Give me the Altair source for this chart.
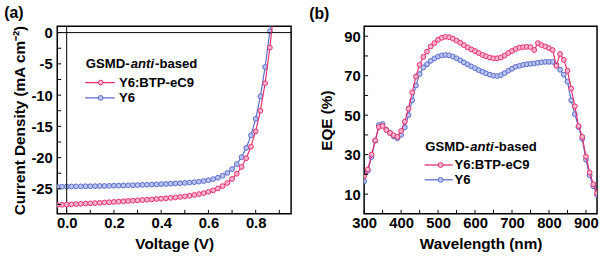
import altair as alt
import pandas as pd

# ---------------- Panel (a): J-V curves ----------------
voltage = [-0.04, -0.02, 0.00, 0.02, 0.04, 0.06, 0.08, 0.10, 0.12, 0.14, 0.16, 0.18,
           0.20, 0.22, 0.24, 0.26, 0.28, 0.30, 0.32, 0.34, 0.36, 0.38, 0.40, 0.42,
           0.44, 0.46, 0.48, 0.50, 0.52, 0.54, 0.56, 0.58, 0.60, 0.62, 0.64, 0.66,
           0.68, 0.70, 0.72, 0.74, 0.76, 0.78, 0.80, 0.82, 0.84, 0.86, 0.88]
j_btp = [-27.58, -27.55, -27.52, -27.48, -27.44, -27.40, -27.36, -27.32, -27.28, -27.24,
         -27.19, -27.14, -27.09, -27.04, -26.99, -26.94, -26.89, -26.84, -26.79, -26.74,
         -26.69, -26.63, -26.57, -26.51, -26.44, -26.37, -26.29, -26.20, -26.10, -25.98,
         -25.84, -25.68, -25.48, -25.24, -24.94, -24.56, -24.06, -23.42, -22.58, -21.50,
         -20.10, -18.25, -15.80, -12.50, -8.10, -2.40, 4.50]
j_y6 = [-24.66, -24.65, -24.63, -24.62, -24.61, -24.60, -24.59, -24.58, -24.57, -24.55,
        -24.54, -24.52, -24.50, -24.48, -24.46, -24.44, -24.42, -24.40, -24.37, -24.34,
        -24.31, -24.28, -24.25, -24.22, -24.18, -24.14, -24.10, -24.05, -24.00, -23.93,
        -23.85, -23.75, -23.62, -23.45, -23.22, -22.90, -22.45, -21.85, -21.05, -19.95,
        -18.45, -16.45, -13.80, -10.20, -5.50, 0.20, 6.50]
a_x_labels = [0.0, 0.2, 0.4, 0.6, 0.8]
a_x_ticks = [0.0, 0.1, 0.2, 0.3, 0.4, 0.5, 0.6, 0.7, 0.8, 0.9]
a_y_labels = [0, -5, -10, -15, -20, -25]
a_y_ticks = [0, -2.5, -5, -7.5, -10, -12.5, -15, -17.5, -20, -22.5, -25, -27.5]

# ---------------- Panel (b): EQE spectra ----------------
wavelength = [300, 310, 320, 330, 340, 350, 360, 370, 380, 390, 400, 410, 420, 430, 440,
              450, 460, 470, 480, 490, 500, 510, 520, 530, 540, 550, 560, 570, 580, 590,
              600, 610, 620, 630, 640, 650, 660, 670, 680, 690, 700, 710, 720, 730, 740,
              750, 760, 770, 780, 790, 800, 810, 820, 830, 840, 850, 860, 870, 880, 890,
              900, 910, 920, 930]
eqe_btp = [19.0, 22.5, 30.0, 37.2, 44.0, 44.5, 42.5, 41.0, 39.8, 39.0, 42.0, 46.7, 53.3,
           61.5, 69.5, 75.5, 79.5, 82.2, 84.8, 86.5, 88.2, 89.2, 89.7, 89.5, 88.8, 87.8,
           86.7, 85.5, 84.3, 83.3, 82.5, 81.5, 80.5, 79.8, 79.2, 78.8, 78.8, 79.2, 80.2,
           81.5, 82.5, 83.5, 84.2, 84.5, 84.6, 84.5, 83.0, 86.5, 85.5, 84.8, 84.0, 83.0,
           75.0, 81.0, 78.0, 72.5, 63.5, 54.5, 44.5, 39.0, 29.0, 21.0, 15.0, 10.5]
eqe_y6 = [16.5, 21.8, 28.8, 37.0, 45.0, 45.5, 42.7, 41.0, 39.2, 38.3, 40.0, 43.8, 50.0,
          57.5, 65.0, 70.8, 74.2, 75.8, 77.5, 78.7, 79.7, 80.3, 80.5, 80.3, 79.7, 78.8,
          77.8, 76.7, 75.7, 74.7, 73.8, 72.8, 72.0, 71.2, 70.5, 70.0, 69.8, 70.3, 71.3,
          72.5, 73.5, 74.5, 75.0, 75.5, 75.8, 76.0, 76.2, 76.5, 76.8, 77.0, 77.0, 77.0,
          75.5, 73.0, 70.5, 67.0, 57.5, 50.5, 44.0, 38.0, 27.5, 19.5, 14.0, 9.5]
b_x_labels = [300, 400, 500, 600, 700, 800, 900]
b_x_ticks = [300, 350, 400, 450, 500, 550, 600, 650, 700, 750, 800, 850, 900]
b_y_labels = [10, 30, 50, 70, 90]
b_y_ticks = [10, 20, 30, 40, 50, 60, 70, 80, 90]

series_names = ["Y6:BTP-eC9", "Y6"]
legend_title = ["GSMD-", "anti", "-based"]

RED, RED_FILL = "#e5306f", "#f7b3cb"
BLUE, BLUE_FILL = "#5a6ccc", "#b9c3ef"
FONT = "Liberation Sans"
W, H = 237, 190
TICK = 4
MSIZE = 24


def curve_layers(df, xf, yf, xscale, yscale, color, fill, xaxis, yaxis):
    line = alt.Chart(df).mark_line(color=color, strokeWidth=1.2, clip=True).encode(
        x=alt.X(xf, type="quantitative", scale=xscale, axis=xaxis),
        y=alt.Y(yf, type="quantitative", scale=yscale, axis=yaxis),
    )
    pts = alt.Chart(df).mark_point(shape="circle", filled=True, fill=fill, stroke=color,
                                   strokeWidth=1, size=MSIZE, opacity=1, clip=True).encode(
        x=alt.X(xf, type="quantitative", scale=xscale, axis=xaxis),
        y=alt.Y(yf, type="quantitative", scale=yscale, axis=yaxis),
    )
    return [line, pts]


def inward_ticks(xticks, yticks, xscale, yscale, xaxis, yaxis):
    ty = alt.Chart(pd.DataFrame({"t": yticks})).mark_rule(color="black", strokeWidth=1).encode(
        y=alt.Y("t:Q", scale=yscale, axis=yaxis), x=alt.value(0), x2=alt.value(TICK))
    tx = alt.Chart(pd.DataFrame({"t": xticks})).mark_rule(color="black", strokeWidth=1).encode(
        x=alt.X("t:Q", scale=xscale, axis=xaxis), y=alt.value(H), y2=alt.value(H - TICK))
    return [ty, tx]


def legend_layers(x0, ytitle, y1, y2, line_x0, line_x1, circ_x, text_x):
    layers = []
    w1, w2 = 45.5, 24.6
    layers.append(alt.Chart(pd.DataFrame({"s": [legend_title[0]]})).mark_text(
        align="left", baseline="middle", font=FONT, fontSize=13.3, fontWeight="bold", color="black"
    ).encode(x=alt.value(x0), y=alt.value(ytitle), text="s:N"))
    layers.append(alt.Chart(pd.DataFrame({"s": [legend_title[1]]})).mark_text(
        align="left", baseline="middle", font=FONT, fontSize=13.3, fontWeight="bold",
        fontStyle="italic", color="black"
    ).encode(x=alt.value(x0 + w1), y=alt.value(ytitle), text="s:N"))
    layers.append(alt.Chart(pd.DataFrame({"s": [legend_title[2]]})).mark_text(
        align="left", baseline="middle", font=FONT, fontSize=13.3, fontWeight="bold", color="black"
    ).encode(x=alt.value(x0 + w1 + w2), y=alt.value(ytitle), text="s:N"))
    for name, yy, col, fil in [(series_names[0], y1, RED, RED_FILL), (series_names[1], y2, BLUE, BLUE_FILL)]:
        d = pd.DataFrame({"s": [name]})
        layers.append(alt.Chart(d).mark_rule(color=col, strokeWidth=1.3).encode(
            x=alt.value(line_x0), x2=alt.value(line_x1), y=alt.value(yy)))
        layers.append(alt.Chart(d).mark_point(shape="circle", filled=True, fill=fil, stroke=col,
                                              strokeWidth=1, size=MSIZE, opacity=1).encode(
            x=alt.value(circ_x), y=alt.value(yy)))
        layers.append(alt.Chart(d).mark_text(align="left", baseline="middle", font=FONT,
                                             fontSize=13.3, fontWeight="bold", color="black").encode(
            x=alt.value(text_x), y=alt.value(yy), text="s:N"))
    return layers


axis_common = dict(labelFont=FONT, labelFontSize=15, labelFontWeight="bold", labelColor="black",
                   titleFont=FONT, titleFontSize=15.5, titleFontWeight="bold", titleColor="black",
                   ticks=False, domain=False, grid=False, labelOverlap=False, labelFlush=False)

# ----- panel a -----
df_a_btp = pd.DataFrame({"V": voltage, "J": j_btp})
df_a_y6 = pd.DataFrame({"V": voltage, "J": j_y6})
xs_a = alt.Scale(domain=[-0.04, 0.95], nice=False, zero=False)
ys_a = alt.Scale(domain=[-29, 1], nice=False, zero=False)
xaxis_a = alt.Axis(values=a_x_labels, format=".1f", title="Voltage (V)", labelPadding=2,
                   titlePadding=6, **axis_common)
yaxis_a = alt.Axis(values=a_y_labels, labelExpr="toString(datum.value)",
                   title="Current Density (mA cm\u207b\u00b2)", labelPadding=5, titlePadding=3,
                   **axis_common)

zero_h = alt.Chart(pd.DataFrame({"z": [0]})).mark_rule(color="black", strokeWidth=1).encode(
    y=alt.Y("z:Q", scale=ys_a, axis=yaxis_a))
zero_v = alt.Chart(pd.DataFrame({"z": [0]})).mark_rule(color="black", strokeWidth=1).encode(
    x=alt.X("z:Q", scale=xs_a, axis=xaxis_a))

layers_a = (curve_layers(df_a_y6, "V", "J", xs_a, ys_a, BLUE, BLUE_FILL, xaxis_a, yaxis_a)
            + [zero_h, zero_v]
            + curve_layers(df_a_btp, "V", "J", xs_a, ys_a, RED, RED_FILL, xaxis_a, yaxis_a)
            + inward_ticks(a_x_ticks, a_y_ticks, xs_a, ys_a, xaxis_a, yaxis_a)
            + legend_layers(29, 38.5, 57, 72.5, 28.3, 58.3, 44, 62.5))
panel_a = alt.layer(*layers_a).properties(
    width=W, height=H,
    title=alt.TitleParams("(a)", anchor="start", frame="bounds", font=FONT, fontSize=16,
                          fontWeight="bold", color="black", offset=4, dx=-9))

# ----- panel b -----
df_b_btp = pd.DataFrame({"WL": wavelength, "EQE": eqe_btp})
df_b_y6 = pd.DataFrame({"WL": wavelength, "EQE": eqe_y6})
xs_b = alt.Scale(domain=[300, 930], nice=False, zero=False)
ys_b = alt.Scale(domain=[0, 95], nice=False, zero=False)
xaxis_b = alt.Axis(values=b_x_labels, format="d", title="Wavelength (nm)", labelPadding=2,
                   titlePadding=6, **axis_common)
yaxis_b = alt.Axis(values=b_y_labels, format="d", title="EQE (%)", labelPadding=4,
                   titlePadding=9, **axis_common)

layers_b = (curve_layers(df_b_y6, "WL", "EQE", xs_b, ys_b, BLUE, BLUE_FILL, xaxis_b, yaxis_b)
            + curve_layers(df_b_btp, "WL", "EQE", xs_b, ys_b, RED, RED_FILL, xaxis_b, yaxis_b)
            + inward_ticks(b_x_ticks, b_y_ticks, xs_b, ys_b, xaxis_b, yaxis_b)
            + legend_layers(62, 122.5, 140.5, 155.5, 61.3, 89.7, 77.5, 91.5))
panel_b = alt.layer(*layers_b).properties(
    width=236, height=H,
    title=alt.TitleParams("(b)", anchor="start", frame="bounds", font=FONT, fontSize=16,
                          fontWeight="bold", color="black", offset=4, dx=-11))

chart = alt.hconcat(panel_a, panel_b, spacing=15).properties(
    padding={"left": 3, "top": 2, "right": 0, "bottom": 0},
    background="white",
).configure_view(stroke="black", strokeWidth=1.5)

chart.save("out.html", embed_options={"renderer": "svg", "actions": False})
